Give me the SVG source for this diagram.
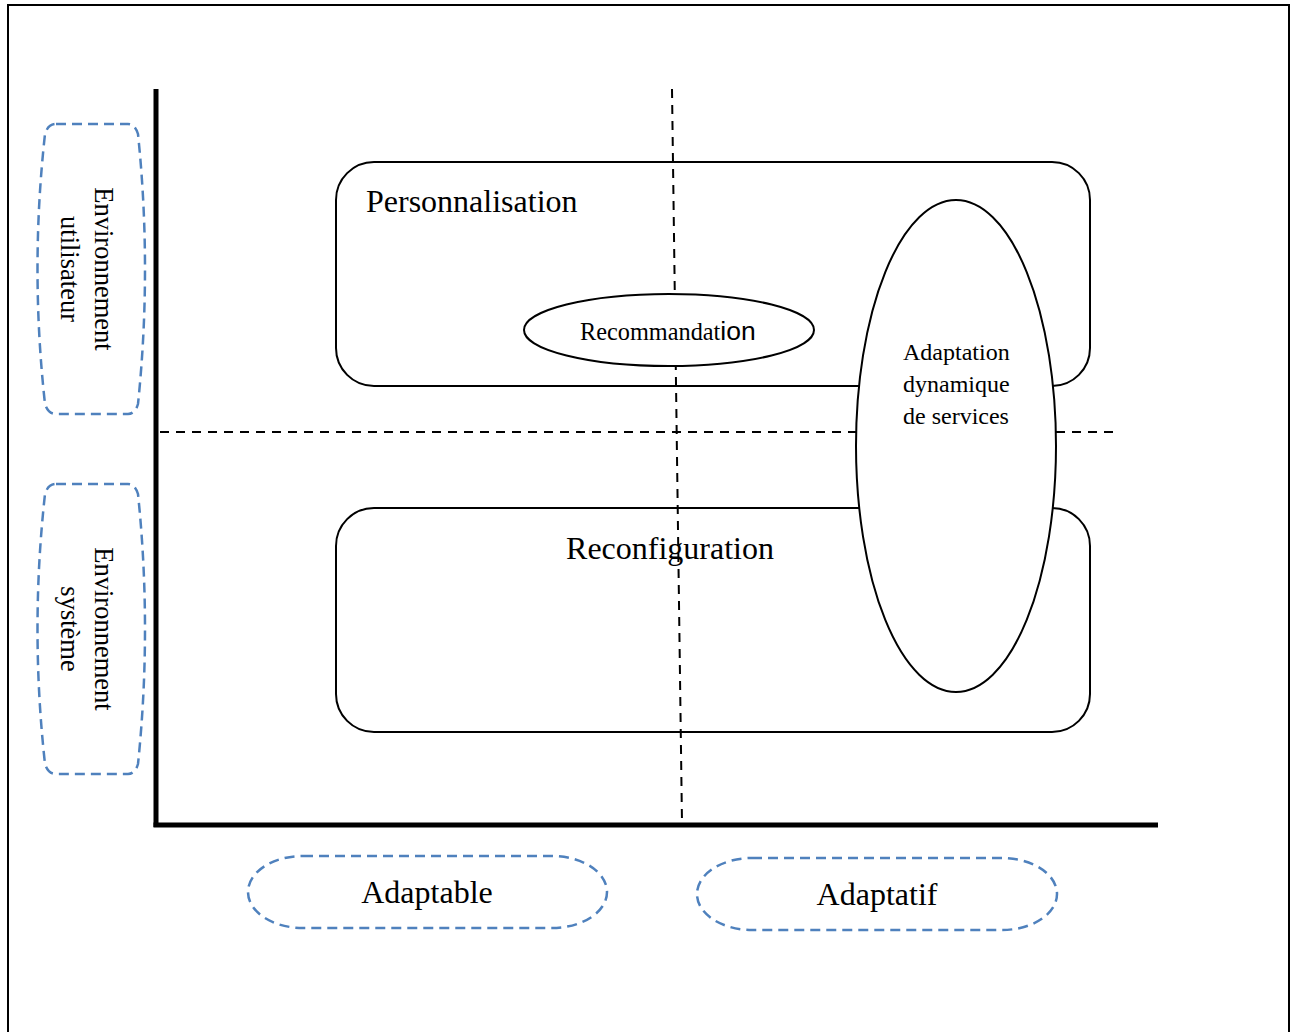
<svg xmlns="http://www.w3.org/2000/svg" width="1293" height="1032" viewBox="0 0 1293 1032">
  <style>
    .serif { font-family: "Liberation Serif", "Times New Roman", serif; fill: #000; }
    .sans { font-family: "Liberation Sans", Arial, sans-serif; fill: #000; }
    .box { fill: none; stroke: #000; stroke-width: 2; }
    .oval { fill: #fff; stroke: #000; stroke-width: 2; }
    .tag { fill: none; stroke: #4F81BD; stroke-width: 2.5; stroke-dasharray: 10 6; }
    .guide { stroke: #000; stroke-width: 2; stroke-dasharray: 9 7; fill: none; }
    .axis { stroke: #000; stroke-width: 5; fill: none; }
  </style>

  <rect x="0" y="0" width="1293" height="1032" fill="#fff"/>
  <!-- frame -->
  <path d="M8 1040 V5 H1289 V1040" fill="none" stroke="#000" stroke-width="2"/>

  <!-- quadrant boxes -->
  <g id="personnalisation">
    <rect class="box" x="336" y="162" width="754" height="224" rx="38" ry="38"/>
    <text class="serif" x="366" y="212" font-size="32">Personnalisation</text>
  </g>
  <g id="reconfiguration">
    <rect class="box" x="336" y="508" width="754" height="224" rx="38" ry="38"/>
  </g>

  <!-- quadrant guides -->
  <g id="connectors">
    <line class="guide" x1="672" y1="89" x2="682" y2="823"/>
    <line class="guide" x1="160" y1="432" x2="1113" y2="432"/>
  </g>

  <g id="reconfiguration-label">
    <text class="serif" x="670" y="559" font-size="32" text-anchor="middle">Reconfiguration</text>
  </g>

  <g id="recommandation">
    <ellipse class="oval" cx="669" cy="330" rx="145" ry="36"/>
    <text x="580" y="340"><tspan class="serif" font-size="24.3">Recommandat</tspan><tspan class="sans" font-size="26.5">ion</tspan></text>
  </g>

  <g id="adaptation-dynamique">
    <ellipse class="oval" cx="956" cy="446" rx="100" ry="246"/>
    <text class="serif" font-size="24">
      <tspan x="903" y="360">Adaptation</tspan>
      <tspan x="903" y="392">dynamique</tspan>
      <tspan x="903" y="424">de services</tspan>
    </text>
  </g>

  <!-- axes -->
  <g id="axes">
    <line class="axis" x1="156" y1="89" x2="156" y2="827"/>
    <line class="axis" x1="153.5" y1="825" x2="1158" y2="825"/>
  </g>

  <!-- row labels -->
  <g id="env-utilisateur">
    <path class="tag" d="M56 124 L128 124 Q135 124 138 134 Q152 269 138 404 Q135 414 128 414 L56 414 Q48 414 45 404 Q30 269 45 134 Q48 124 56 124 Z"/>
    <text class="serif" font-size="26.5" text-anchor="middle" transform="translate(95 269) rotate(90)">Environnement</text>
    <text class="serif" font-size="26.5" text-anchor="middle" transform="translate(61 269) rotate(90)">utilisateur</text>
  </g>
  <g id="env-systeme">
    <path class="tag" d="M56 484 L128 484 Q135 484 138 494 Q152 629 138 764 Q135 774 128 774 L56 774 Q48 774 45 764 Q30 629 45 494 Q48 484 56 484 Z"/>
    <text class="serif" font-size="26.5" text-anchor="middle" transform="translate(95 629) rotate(90)">Environnement</text>
    <text class="serif" font-size="26.5" text-anchor="middle" transform="translate(61 629) rotate(90)">système</text>
  </g>

  <!-- column labels -->
  <g id="adaptable">
    <rect class="tag" x="248" y="856" width="359" height="72" rx="55" ry="36"/>
    <text class="serif" x="427" y="903" font-size="32" text-anchor="middle">Adaptable</text>
  </g>
  <g id="adaptatif">
    <rect class="tag" x="697" y="858" width="360" height="72" rx="55" ry="36"/>
    <text class="serif" x="877" y="905" font-size="32" text-anchor="middle">Adaptatif</text>
  </g>
</svg>
